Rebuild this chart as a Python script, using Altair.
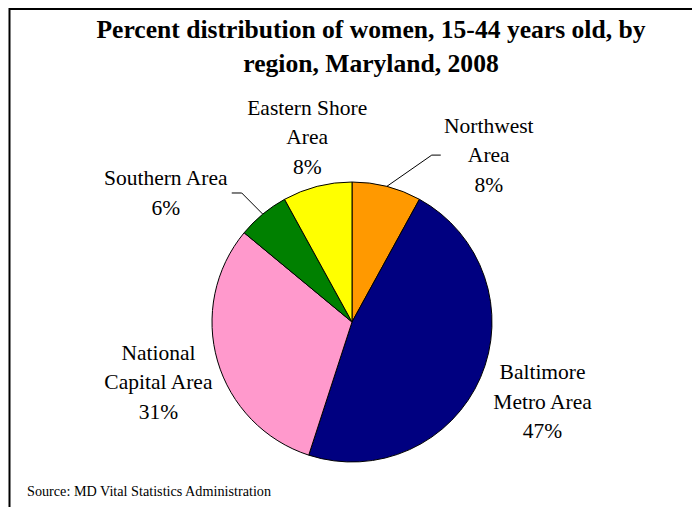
import math
import altair as alt
import pandas as pd

# ---- data ----
regions = ["Northwest Area", "Baltimore Metro Area", "National Capital Area",
           "Southern Area", "Eastern Shore Area"]
label_lines = [["Northwest", "Area"], ["Baltimore", "Metro Area"],
               ["National", "Capital Area"], ["Southern Area"],
               ["Eastern Shore", "Area"]]
percents = [8, 47, 31, 6, 8]
colors = ["#FF9900", "#000080", "#FF99CC", "#008000", "#FFFF00"]

title_lines = ["Percent distribution of women, 15-44 years old, by",
               "region, Maryland, 2008"]
source_text = "Source:  MD Vital Statistics Administration"

# ---- layout (page pixels) ----
M = 8
W, H = 684, 499
CX, CY, R = 352, 322, 140
label_dtheta = [25.1, -0.4, -1.3, -15.9, 0.7]   # angular shift of label from slice middle
label_r = [215, 207, 203, 226, 189]             # label distance from centre
LH = 29.5                                       # label line height
# leader lines: (horizontal end dx from label, elbow dx from label, dy)
leaders = {0: (-48, -57, -1), 3: (66, 76, -1)}
FONT = "Liberation Serif"
TITLE_LH = 34

total = sum(percents)
cum = 0
mids = []
for p in percents:
    mids.append((cum + p / 2) / total * 360)
    cum += p

pie_df = pd.DataFrame({"region": regions, "pct": percents, "idx": list(range(len(regions)))})

lab_rows = []
lead_rows = []
for i, (lines, p) in enumerate(zip(label_lines, percents)):
    a = math.radians(mids[i] + label_dtheta[i])
    lx = CX + label_r[i] * math.sin(a)
    ly = CY - label_r[i] * math.cos(a)
    all_lines = lines + [f"{p}%"]
    first_y = ly - (len(all_lines) - 1) * LH / 2
    lab_rows.append({"x": lx, "y": first_y, "text": "\n".join(all_lines)})
    if i in leaders:
        dxe, dxk, dy = leaders[i]
        am = math.radians(mids[i])
        sx = CX + R * math.sin(am)
        sy = CY - R * math.cos(am)
        lead_rows += [
            {"g": i, "o": 0, "x": sx, "y": sy},
            {"g": i, "o": 1, "x": lx + dxk, "y": ly + dy},
            {"g": i, "o": 2, "x": lx + dxe, "y": ly + dy},
        ]
lab_df = pd.DataFrame(lab_rows)
lead_df = pd.DataFrame(lead_rows)

xs = alt.Scale(domain=[M, M + W], range=[0, W])
ys = alt.Scale(domain=[M, M + H], range=[0, H])

pie = alt.Chart(pie_df).mark_arc(outerRadius=R, stroke="black", strokeWidth=1).encode(
    theta=alt.Theta("pct:Q", stack=True),
    order=alt.Order("idx:Q"),
    color=alt.Color("region:N", scale=alt.Scale(domain=regions, range=colors), legend=None),
    x=alt.value(CX - M),
    y=alt.value(CY - M),
)

labels = alt.Chart(lab_df).mark_text(
    font=FONT, fontSize=21.5, lineBreak="\n", lineHeight=LH,
    align="center", baseline="middle", color="black"
).encode(
    x=alt.X("x:Q", scale=xs, axis=None),
    y=alt.Y("y:Q", scale=ys, axis=None),
    text="text:N",
)

leader = alt.Chart(lead_df).mark_line(color="black", strokeWidth=1).encode(
    x=alt.X("x:Q", scale=xs, axis=None),
    y=alt.Y("y:Q", scale=ys, axis=None),
    detail="g:N",
    order="o:Q",
)

title = alt.Chart(pd.DataFrame({"t": ["\n".join(title_lines)]})).mark_text(
    font=FONT, fontSize=25.6, fontWeight="bold", lineBreak="\n", lineHeight=TITLE_LH,
    align="center", baseline="middle", color="black"
).encode(
    x=alt.value(371 - M), y=alt.value(30 - M), text="t:N"
)

source = alt.Chart(pd.DataFrame({"t": [source_text]})).mark_text(
    font=FONT, fontSize=14.2, align="left", baseline="middle", color="black"
).encode(
    x=alt.value(27 - M), y=alt.value(492 - M), text="t:N"
)

left_border = alt.Chart(pd.DataFrame({"a": [0]})).mark_rule(color="black", strokeWidth=2).encode(
    x=alt.value(9.5 - M), y=alt.value(0), y2=alt.value(H)
)
top_border = alt.Chart(pd.DataFrame({"a": [0]})).mark_rule(color="black", strokeWidth=2).encode(
    x=alt.value(9.5 - M), x2=alt.value(W), y=alt.value(1)
)

chart = alt.layer(pie, leader, labels, title, source, left_border, top_border).properties(
    width=W, height=H, autosize="none", padding=0, background="white"
).configure_view(stroke=None)

chart.save("out.html", embed_options={"renderer": "svg", "actions": False})
